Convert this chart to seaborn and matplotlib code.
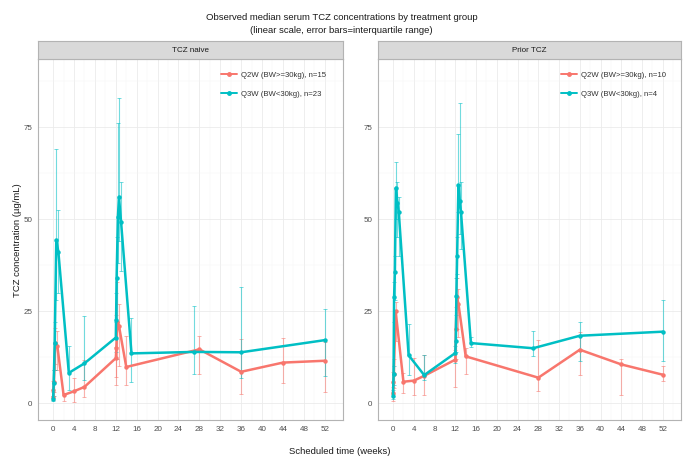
import numpy as np
import pandas as pd
import matplotlib
matplotlib.use("Agg")
import matplotlib.pyplot as plt
from matplotlib.lines import Line2D
import seaborn as sns

# ---------------- data ----------------
panels = ["TCZ naive", "Prior TCZ"]
groups = ["Q2W (BW>=30kg)", "Q3W (BW<30kg)"]
n_naive = [15, 23]
n_prior = [10, 4]

# TCZ naive, Q2W
naive_q2w_t   = [0, 0.05, 0.15, 0.4, 0.8, 2, 4, 6, 12, 12.1, 12.3, 12.6, 14, 28, 36, 44, 52]
naive_q2w_med = [1.7, 3.5, 5.8, 16.2, 15.5, 2.2, 3.2, 4.4, 12.2, 15.0, 22.0, 21.0, 9.8, 14.6, 8.5, 11.0, 11.5]
naive_q2w_q1  = [0.8, 1.5, 3.0, 10.5, 9.0, 0.5, 0.4, 1.7, 4.9, 7.0, 12.0, 10.0, 4.9, 7.9, 2.6, 5.5, 2.9]
naive_q2w_q3  = [3.0, 6.0, 9.0, 20.5, 19.5, 2.7, 6.9, 11.7, 15.3, 24.0, 33.0, 27.0, 18.2, 18.3, 17.3, 17.6, 16.7]

# TCZ naive, Q3W
naive_q3w_t   = [0, 0.1, 0.3, 0.6, 1.0, 3, 6, 12, 12.05, 12.15, 12.4, 12.6, 13.0, 15, 27, 36, 52]
naive_q3w_med = [1.0, 5.4, 16.2, 44.3, 41.1, 8.2, 10.8, 17.8, 22.6, 34.0, 50.6, 56.0, 49.3, 13.5, 13.9, 13.8, 17.1]
naive_q3w_q1  = [0.5, 2.0, 9.0, 28.0, 30.0, 3.5, 6.2, 12.0, 14.0, 22.0, 38.0, 44.0, 36.0, 5.8, 7.9, 6.7, 7.4]
naive_q3w_q3  = [2.0, 9.0, 22.0, 69.0, 52.6, 15.5, 23.7, 22.0, 30.0, 45.0, 76.0, 82.8, 60.0, 23.0, 26.4, 31.6, 25.5]

# Prior TCZ, Q2W
prior_q2w_t   = [0, 0.05, 0.15, 0.5, 2, 4, 6, 12, 12.1, 12.3, 12.6, 14, 28, 36, 44, 52]
prior_q2w_med = [2.7, 5.6, 7.9, 25.0, 5.8, 6.1, 7.4, 11.8, 20.0, 28.9, 27.0, 12.7, 6.9, 14.5, 10.5, 7.7]
prior_q2w_q1  = [0.6, 2.5, 4.0, 17.0, 2.7, 2.2, 2.2, 4.4, 12.0, 20.0, 18.0, 8.0, 3.4, 7.6, 2.3, 6.1]
prior_q2w_q3  = [4.5, 8.5, 12.0, 27.5, 8.2, 12.2, 13.0, 14.5, 26.0, 34.0, 31.0, 15.0, 17.1, 19.2, 11.9, 10.0]

# Prior TCZ, Q3W
prior_q3w_t   = [0, 0.1, 0.2, 0.35, 0.55, 0.85, 1.1, 3, 6, 12, 12.1, 12.2, 12.35, 12.6, 12.85, 13.1, 15, 27, 36, 52]
prior_q3w_med = [2.0, 8.0, 28.8, 35.6, 58.5, 54.5, 52.0, 13.0, 7.6, 13.6, 17.0, 29.0, 40.0, 59.2, 55.0, 51.8, 16.3, 14.9, 18.3, 19.4]
prior_q3w_q1  = [1.0, 5.0, 22.0, 28.0, 50.0, 45.0, 40.0, 7.6, 6.2, 11.0, 14.0, 24.0, 35.0, 52.0, 46.0, 42.0, 15.3, 12.9, 11.3, 11.5]
prior_q3w_q3  = [3.5, 10.0, 33.0, 40.0, 65.6, 60.0, 56.0, 21.5, 13.0, 15.5, 20.0, 34.0, 45.0, 73.2, 81.6, 60.0, 18.0, 19.5, 22.0, 27.9]

x_ticks = list(range(0, 53, 4))
y_ticks = [0, 25, 50, 75]

title = "Observed median serum TCZ concentrations by treatment group\n(linear scale, error bars=interquartile range)"
xlabel = "Scheduled time (weeks)"
ylabel = "TCZ concentration (µg/mL)"

# ---------------- build frames ----------------
def frame(panel, group, t, med, q1, q3):
    return pd.DataFrame({"panel": panel, "group": group, "week": t,
                         "median": med, "q1": q1, "q3": q3})

df = pd.concat([
    frame(panels[0], groups[0], naive_q2w_t, naive_q2w_med, naive_q2w_q1, naive_q2w_q3),
    frame(panels[0], groups[1], naive_q3w_t, naive_q3w_med, naive_q3w_q1, naive_q3w_q3),
    frame(panels[1], groups[0], prior_q2w_t, prior_q2w_med, prior_q2w_q1, prior_q2w_q3),
    frame(panels[1], groups[1], prior_q3w_t, prior_q3w_med, prior_q3w_q1, prior_q3w_q3),
], ignore_index=True)

# ---------------- style ----------------
sns.set_theme(style="white")
plt.rcParams["font.family"] = ["Liberation Sans", "DejaVu Sans"]
palette = {groups[0]: "#F8766D", groups[1]: "#00BFC4"}

W, H = 683, 462
fig = plt.figure(figsize=(W / 100, H / 100), dpi=100)

panel_px = [(38, 343), (378, 681)]
top_px, bot_px = 59, 420
strip_top = 41

legend_ns = [n_naive, n_prior]
legend_anchor_px = [(218, 68), (558, 68)]

for i, panel in enumerate(panels):
    x0, x1 = panel_px[i]
    ax = fig.add_axes([x0 / W, 1 - bot_px / H, (x1 - x0) / W, (bot_px - top_px) / H])
    sub = df[df.panel == panel]

    # gridlines
    ax.set_xlim(-2.9, 55.5)
    ax.set_ylim(-4.6, 93.5)
    ax.set_xticks(x_ticks)
    ax.set_yticks(y_ticks)
    ax.set_xticks([x + 2 for x in x_ticks[:-1]] + [54], minor=True)
    ax.set_yticks([12.5, 37.5, 62.5, 87.5], minor=True)
    ax.grid(which="major", color="#EBEBEB", lw=0.6)
    ax.grid(which="minor", color="#F4F4F4", lw=0.35)
    ax.set_axisbelow(True)

    for g in groups:
        s = sub[sub.group == g]
        ax.errorbar(s["week"], s["median"],
                    yerr=[s["median"] - s["q1"], s["q3"] - s["median"]],
                    fmt="none", ecolor=palette[g], alpha=0.55, elinewidth=0.8,
                    capsize=1.6, capthick=0.7, zorder=2)

    sns.lineplot(data=sub, x="week", y="median", hue="group", hue_order=groups,
                 palette=palette, estimator=None, errorbar=None, sort=True,
                 marker="o", markersize=3.2, markeredgewidth=0, lw=1.8,
                 ax=ax, legend=False, zorder=3)

    ax.set_xlabel("")
    ax.set_ylabel("")
    ax.tick_params(axis="both", which="major", labelsize=5.8, labelcolor="#4D4D4D",
                   color="#7F7F7F", length=2.2, width=0.5, pad=2)
    ax.tick_params(which="minor", length=0)
    ax.set_yticklabels([str(v) for v in y_ticks])
    ax.set_xticklabels([str(v) for v in x_ticks])
    for sp in ax.spines.values():
        sp.set_color("#B3B3B3")
        sp.set_linewidth(0.8)

    # legend
    handles = [Line2D([0], [0], color=palette[g], lw=1.4, marker="o", markersize=2.5)
               for g in groups]
    labels = [f"{g}, n={n}" for g, n in zip(groups, legend_ns[i])]
    lx, ly = legend_anchor_px[i]
    leg = ax.legend(handles, labels, loc="upper left",
                    bbox_to_anchor=((lx - x0) / (x1 - x0), (bot_px - ly) / (bot_px - top_px)),
                    fontsize=5.6, frameon=False, handlelength=2.0, handletextpad=0.6,
                    labelspacing=1.5, borderaxespad=0)
    for t in leg.get_texts():
        t.set_color("#333333")

    # strip
    sax = fig.add_axes([x0 / W, 1 - top_px / H, (x1 - x0) / W, (top_px - strip_top) / H])
    sax.set_facecolor("#D9D9D9")
    sax.set_xticks([])
    sax.set_yticks([])
    for sp in sax.spines.values():
        sp.set_color("#B3B3B3")
        sp.set_linewidth(0.8)
    sax.text(0.5, 0.5, panel, ha="center", va="center", fontsize=5.8,
             color="#1A1A1A", transform=sax.transAxes)

fig.text(0.5, 1 - 24 / H, title, ha="center", va="center", fontsize=6.8,
         color="#1A1A1A", linespacing=1.7)
fig.text(340 / W, 1 - 452 / H, xlabel, ha="center", va="center", fontsize=6.8, color="#1A1A1A")
fig.text(18 / W, 1 - 240 / H, ylabel, ha="center", va="center", rotation=90,
         fontsize=6.8, color="#1A1A1A")

fig.savefig("out.png", dpi=100)
